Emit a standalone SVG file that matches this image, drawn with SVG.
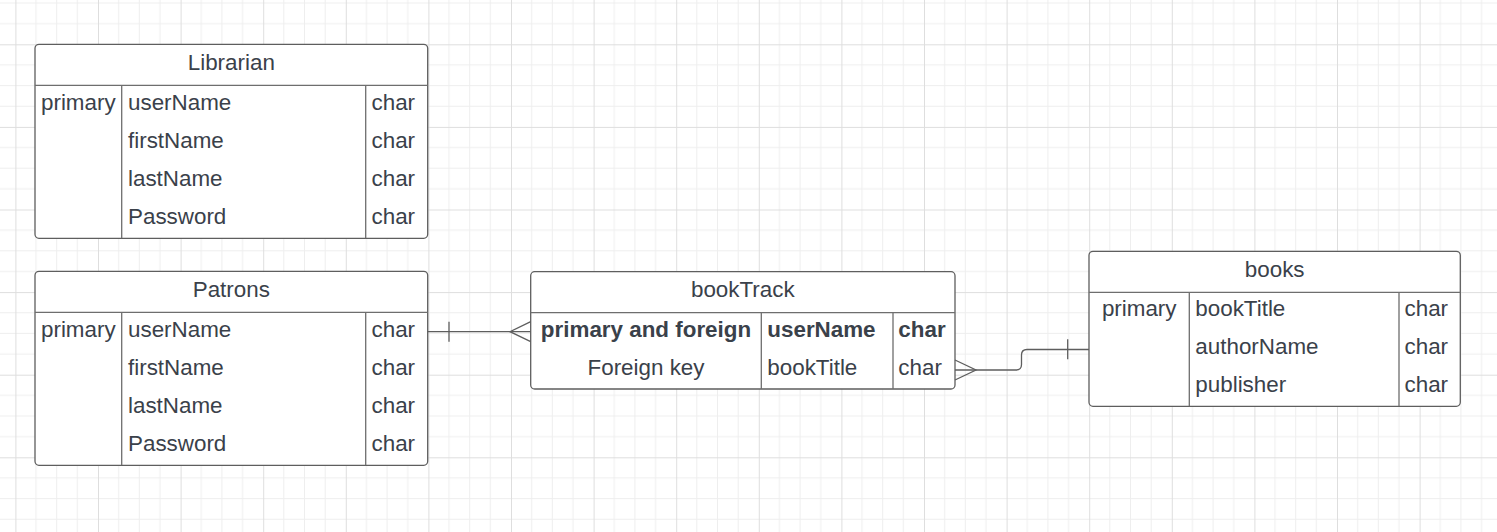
<svg xmlns="http://www.w3.org/2000/svg" width="1497" height="532" viewBox="0 0 1497 532">
  <defs>
    <pattern id="grid" patternUnits="userSpaceOnUse" x="15.4" y="44.3" width="82.6" height="82.6">
      <path d="M20.65,0V82.6M41.3,0V82.6M61.95,0V82.6M0,20.65H82.6M0,41.3H82.6M0,61.95H82.6" stroke="#eeeeee" stroke-width="1" fill="none"/>
      <path d="M0.5,0V82.6M0,0.5H82.6" stroke="#dedede" stroke-width="1" fill="none"/>
    </pattern>
    <style>
      .box { fill: #ffffff; stroke: #5e5e5e; stroke-width: 1.3; }
      .ln { stroke: #6e6e6e; stroke-width: 1.3; fill: none; }
      .con { stroke: #5e5e5e; stroke-width: 1.3; fill: none; }
      text { font-family: "Liberation Sans", Arial, sans-serif; font-size: 22.4px; fill: #3a414a; }
      .c { text-anchor: middle; }
      .b { font-weight: bold; }
    </style>
  </defs>
  <rect width="1497" height="532" fill="#ffffff"/>
  <rect width="1497" height="532" fill="url(#grid)"/>

  <g id="Librarian">
    <rect class="box" x="35" y="44.3" width="392.7" height="194" rx="4"/>
    <path class="ln" d="M35,85.3H427.7M121.7,85.3V238.3M365.7,85.3V238.3"/>
    <text class="c" x="231.3" y="70">Librarian</text>
    <text class="c" x="78.3" y="110">primary</text>
    <text x="128" y="110">userName</text>
    <text x="128" y="148">firstName</text>
    <text x="128" y="186">lastName</text>
    <text x="128" y="224">Password</text>
    <text x="371.5" y="110">char</text>
    <text x="371.5" y="148">char</text>
    <text x="371.5" y="186">char</text>
    <text x="371.5" y="224">char</text>
  </g>

  <g id="Patrons">
    <rect class="box" x="35" y="271.3" width="392.7" height="194" rx="4"/>
    <path class="ln" d="M35,312.3H427.7M121.7,312.3V465.3M365.7,312.3V465.3"/>
    <text class="c" x="231.3" y="297">Patrons</text>
    <text class="c" x="78.3" y="337">primary</text>
    <text x="128" y="337">userName</text>
    <text x="128" y="375">firstName</text>
    <text x="128" y="413">lastName</text>
    <text x="128" y="451">Password</text>
    <text x="371.5" y="337">char</text>
    <text x="371.5" y="375">char</text>
    <text x="371.5" y="413">char</text>
    <text x="371.5" y="451">char</text>
  </g>

  <g id="bookTrack">
    <rect class="box" x="530.7" y="271.7" width="424.3" height="117.3" rx="4"/>
    <path class="ln" d="M530.7,312.7H955M761.3,312.7V389M893,312.7V389"/>
    <text class="c" x="742.8" y="297">bookTrack</text>
    <text class="c b" x="646" y="337">primary and foreign</text>
    <text class="b" x="767.3" y="337">userName</text>
    <text class="b" x="898.3" y="337">char</text>
    <text class="c" x="646" y="375">Foreign key</text>
    <text x="767.3" y="375">bookTitle</text>
    <text x="898.3" y="375">char</text>
  </g>

  <g id="books">
    <rect class="box" x="1089" y="251.3" width="371.3" height="155" rx="4"/>
    <path class="ln" d="M1089,292.3H1460.3M1189.3,292.3V406.3M1399,292.3V406.3"/>
    <text class="c" x="1274.7" y="276.5">books</text>
    <text class="c" x="1139.2" y="316">primary</text>
    <text x="1195.3" y="316">bookTitle</text>
    <text x="1195.3" y="354">authorName</text>
    <text x="1195.3" y="392">publisher</text>
    <text x="1404.5" y="316">char</text>
    <text x="1404.5" y="354">char</text>
    <text x="1404.5" y="392">char</text>
  </g>

  <g id="connectors">
    <path class="con" d="M427.7,331.7H530.7"/>
    <path class="con" d="M449,321.7V341.7"/>
    <path class="con" d="M530.7,321.7L510,331.7L530.7,341.7"/>
    <path class="con" d="M955,370H1016Q1021.5,370 1021.5,364.5V355Q1021.5,349.5 1027,349.5H1089"/>
    <path class="con" d="M955,360L976,370L955,380"/>
    <path class="con" d="M1067.7,339.3V359.3"/>
  </g>
</svg>
